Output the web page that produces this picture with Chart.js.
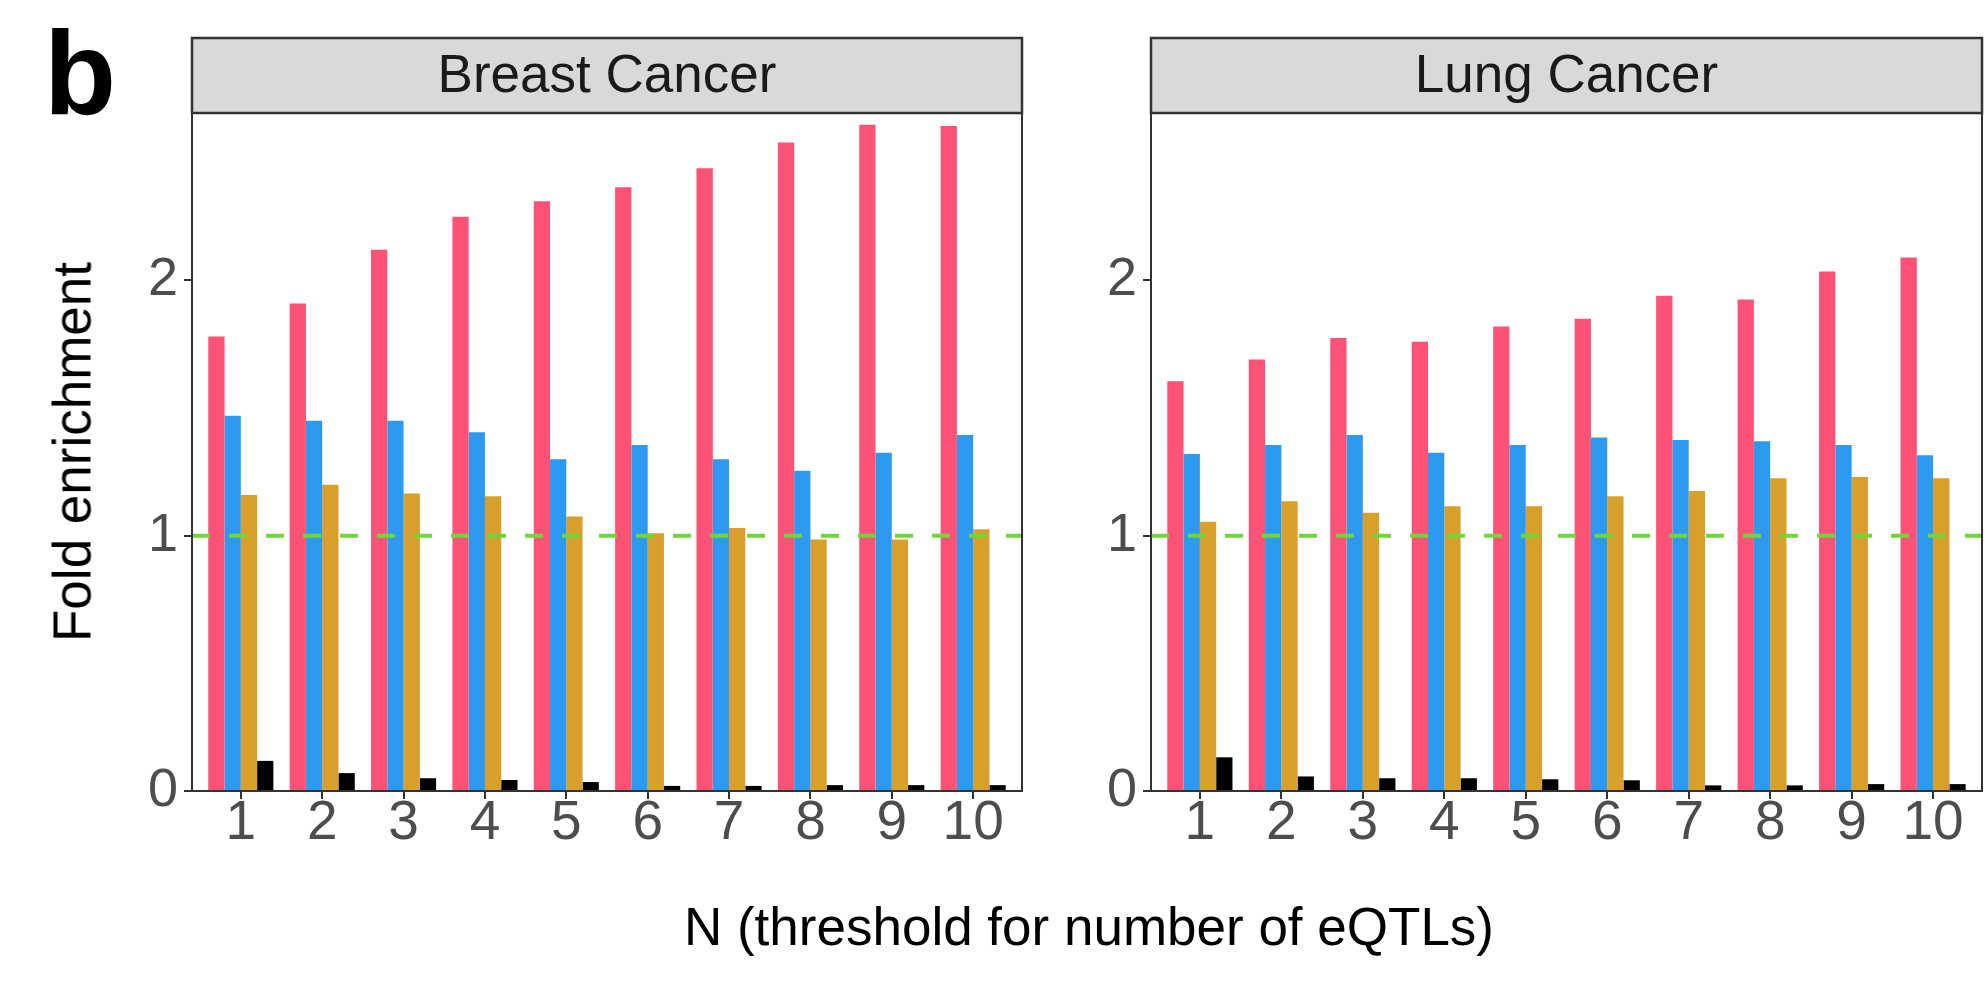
<!DOCTYPE html>
<html>
<head>
<meta charset="utf-8">
<script src="https://cdn.jsdelivr.net/npm/chart.js@4.4.1/dist/chart.umd.min.js"></script>
<style>
  body { margin: 0; background: #fff; }
  #wrap { position: relative; width: 1985px; height: 985px; font-family: "Liberation Sans", Arial, sans-serif; }
  canvas { position: absolute; top: 0; }
  .txt { position: absolute; white-space: nowrap; line-height: 1; color: #000; }
  #panel-tag { left: 44px; top: 14px; font-size: 118px; font-weight: bold; }
  #x-title { left: 192px; width: 1794px; top: 900px; font-size: 53px; text-align: center; }
  #y-title { left: 72px; top: 452px; font-size: 53px; transform: translate(-50%, -50%) rotate(-90deg); }
</style>
</head>
<body>
<div id="wrap">
  <canvas id="breastChart" width="1040" height="985" style="left:0"></canvas>
  <canvas id="lungChart" width="945" height="985" style="left:1040px"></canvas>
  <div class="txt" id="panel-tag">b</div>
  <div class="txt" id="y-title">Fold enrichment</div>
  <div class="txt" id="x-title">N (threshold for number of eQTLs)</div>
</div>
<script>
const thresholds = [1, 2, 3, 4, 5, 6, 7, 8, 9, 10];
const yTicks = [0, 1, 2];
const referenceLevel = 1;

const breastPink  = [1.78, 1.91, 2.12, 2.25, 2.31, 2.365, 2.44, 2.54, 2.61, 2.605];
const breastBlue  = [1.47, 1.45, 1.45, 1.405, 1.30, 1.355, 1.30, 1.255, 1.325, 1.395];
const breastGold  = [1.16, 1.20, 1.165, 1.155, 1.075, 1.01, 1.03, 0.985, 0.985, 1.025];
const breastBlack = [0.118, 0.07, 0.05, 0.043, 0.035, 0.02, 0.02, 0.023, 0.023, 0.023];

const lungPink  = [1.605, 1.69, 1.775, 1.76, 1.82, 1.85, 1.94, 1.925, 2.035, 2.09];
const lungBlue  = [1.32, 1.355, 1.395, 1.325, 1.355, 1.385, 1.375, 1.37, 1.355, 1.315];
const lungGold  = [1.055, 1.135, 1.09, 1.115, 1.115, 1.155, 1.175, 1.225, 1.23, 1.225];
const lungBlack = [0.132, 0.057, 0.05, 0.05, 0.046, 0.042, 0.022, 0.022, 0.027, 0.027];

const barColors = ["#ff5277", "#2d9af0", "#d89f2d", "#000000"];
const FONT = "'Liberation Sans', Arial, sans-serif";

// grey facet strip above the panel + panel border on all four sides
const panelFrame = {
  id: "panelFrame",
  afterDatasetsDraw(chart, args, opts) {
    const { ctx, chartArea: a } = chart;
    const stripH = 75;
    ctx.save();
    ctx.fillStyle = "#d9d9d9";
    ctx.fillRect(a.left, a.top - stripH, a.right - a.left, stripH);
    ctx.strokeStyle = "#333333";
    ctx.lineWidth = 2.5;
    ctx.strokeRect(a.left, a.top - stripH, a.right - a.left, stripH);
    ctx.fillStyle = "#1a1a1a";
    ctx.font = "53px " + FONT;
    ctx.textAlign = "center";
    ctx.textBaseline = "alphabetic";
    ctx.fillText(opts.title, (a.left + a.right) / 2, a.top - 21);
    ctx.lineWidth = 2;
    ctx.strokeRect(a.left, a.top, a.right - a.left, a.bottom - a.top);
    ctx.restore();
  }
};

function toPoints(values) {
  return thresholds.map((t, i) => ({ x: t, y: values[i] }));
}

function createPanel(canvasId, title, series, yAxisWidth, padRight) {
  const ctx = document.getElementById(canvasId).getContext("2d");
  const datasets = series.map((values, i) => ({
    type: "bar",
    data: toPoints(values),
    backgroundColor: barColors[i],
    borderWidth: 0,
    categoryPercentage: 0.8,
    barPercentage: 1.0,
    order: 1,
  }));
  datasets.push({
    type: "line",
    data: [{ x: 0.4, y: referenceLevel }, { x: 10.6, y: referenceLevel }],
    borderColor: "#72d63a",
    borderWidth: 4,
    borderDash: [18, 19],
    pointRadius: 0,
    order: 0,
  });

  return new Chart(ctx, {
    type: "bar",
    data: { datasets },
    options: {
      responsive: false,
      animation: false,
      layout: { padding: { top: 113, right: padRight, left: 0, bottom: 0 } },
      plugins: {
        legend: { display: false },
        tooltip: { enabled: false },
        panelFrame: { title },
      },
      scales: {
        x: {
          type: "linear",
          min: 0.4,
          max: 10.6,
          offset: false,
          afterFit(scale) { scale.height = 194; },
          afterBuildTicks(scale) { scale.ticks = thresholds.map((v) => ({ value: v })); },
          grid: { offset: false, drawOnChartArea: false, color: "#333333", lineWidth: 2, tickLength: 8 },
          border: { display: false },
          ticks: { color: "#4d4d4d", font: { size: 55, family: FONT }, padding: -8, maxRotation: 0, autoSkip: false },
        },
        y: {
          min: 0,
          max: 2.656,
          afterFit(scale) { scale.width = yAxisWidth; },
          afterBuildTicks(scale) { scale.ticks = yTicks.map((v) => ({ value: v })); },
          grid: { drawOnChartArea: false, color: "#333333", lineWidth: 2, tickLength: 8 },
          border: { display: false },
          ticks: { color: "#4d4d4d", font: { size: 54, family: FONT }, padding: 6 },
        },
      },
    },
    plugins: [panelFrame],
  });
}

createPanel("breastChart", "Breast Cancer", [breastPink, breastBlue, breastGold, breastBlack], 192, 18);
createPanel("lungChart", "Lung Cancer", [lungPink, lungBlue, lungGold, lungBlack], 111, 3);
</script>
</body>
</html>
